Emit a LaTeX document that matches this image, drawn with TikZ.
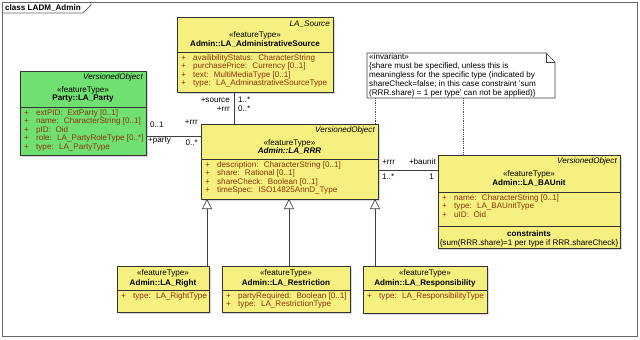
\documentclass[tikz,border=0pt]{standalone}
\usepackage{fontspec}
\setmainfont{Liberation Sans}
\usepackage{tikz}
\usetikzlibrary{arrows.meta, positioning, calc, shadows}

\definecolor{umlyellow}{RGB}{246,240,128}
\definecolor{umlgreen}{RGB}{112,224,112}
\definecolor{attrred}{RGB}{140,52,10}

\begin{document}
\begin{tikzpicture}[
      x=1pt, y=-1pt,
      classbox/.style={rectangle, draw=black!80, fill=umlyellow, line width=0.7pt,
                       inner sep=0pt, outer sep=0pt, anchor=north west,
                       drop shadow={shadow xshift=1.5pt, shadow yshift=-1.5pt, opacity=0.3}},
      partybox/.style={classbox, fill=umlgreen},
      notebox/.style={rectangle, inner sep=0pt, outer sep=0pt, anchor=north west},
      super/.style={anchor=east, inner sep=0pt, font=\fontsize{8.1}{8.5}\selectfont\itshape},
      stereo/.style={inner sep=0pt, font=\fontsize{8.1}{8.5}\selectfont},
      cname/.style={inner sep=0pt, font=\fontsize{8.1}{8.5}\selectfont\bfseries},
      attr/.style={anchor=north west, inner sep=0pt, text=attrred,
                   font=\fontsize{8.1}{8.5}\selectfont},
      divider/.style={draw=black!80, line width=0.6pt},
      role/.style={inner sep=0pt, font=\fontsize{8.1}{8.5}\selectfont},
      assoc/.style={draw=black!75, line width=0.6pt},
      gen/.style={draw=black!75, line width=0.6pt, -{Triangle[open, length=10pt, width=10pt]}},
      trace/.style={draw=black!70, line width=0.8pt, densely dotted},
      frame/.style={draw=black!60, line width=0.8pt}
  ]
      \useasboundingbox (0,0) rectangle (640,340);

      % frame
      \draw[frame] (2,2) rectangle (637,336);
      \draw[frame] (2,13) -- (83,13) -- (91,5) -- (91,2);
      \node[anchor=west, inner sep=0pt, font=\fontsize{8.1}{8.5}\selectfont\bfseries]
          (framename) at (5,8) {class LADM\_Admin};

      % LA_Party
      \node[partybox, minimum width=126, minimum height=84] (party) at (20,71) {};
      \node[super] (partysup) at ([xshift=-3, yshift=-6]party.north east) {VersionedObject};
      \node[stereo] (partyst) at ([yshift=-19]party.north) {«featureType»};
      \node[cname] (partyname) at ([yshift=-28]party.north) {Party::LA\_Party};
      \draw[divider] ([yshift=-36]party.north west) -- ([yshift=-36]party.north east);
      \node[attr] (partyattr) at ([xshift=4, yshift=-38]party.north west)
          {\begin{tabular}{@{}p{12pt}@{}l@{}}
            + & extPID:~ ExtParty [0..1]\\
            + & name:~ CharacterString [0..1]\\
            + & pID:~ Oid\\
            + & role:~ LA\_PartyRoleType [0..*]\\
            + & type:~ LA\_PartyType
           \end{tabular}};

      % LA_AdministrativeSource
      \node[classbox, minimum width=156, minimum height=75] (source) at (177,17) {};
      \node[super] (sourcesup) at ([xshift=-3, yshift=-7]source.north east) {LA\_Source};
      \node[stereo] (sourcest) at ([yshift=-18]source.north) {«featureType»};
      \node[cname] (sourcename) at ([yshift=-27]source.north) {Admin::LA\_AdministrativeSource};
      \draw[divider] ([yshift=-35]source.north west) -- ([yshift=-35]source.north east);
      \node[attr] (sourceattr) at ([xshift=4, yshift=-37]source.north west)
          {\begin{tabular}{@{}p{12pt}@{}l@{}}
            + & availibilityStatus:~ CharacterString\\
            + & purchasePrice:~ Currency [0..1]\\
            + & text:~ MultiMediaType [0..1]\\
            + & type:~ LA\_AdminastrativeSourceType
           \end{tabular}};

      % LA_RRR
      \node[classbox, minimum width=177, minimum height=75] (rrr) at (201,124) {};
      \node[super] (rrrsup) at ([xshift=-3, yshift=-6]rrr.north east) {VersionedObject};
      \node[stereo] (rrrst) at ([yshift=-19]rrr.north) {«featureType»};
      \node[cname, font=\fontsize{8.1}{8.5}\selectfont\bfseries\itshape]
          (rrrname) at ([yshift=-27]rrr.north) {Admin::LA\_RRR};
      \draw[divider] ([yshift=-35]rrr.north west) -- ([yshift=-35]rrr.north east);
      \node[attr] (rrrattr) at ([xshift=4, yshift=-37]rrr.north west)
          {\begin{tabular}{@{}p{12pt}@{}l@{}}
            + & description:~ CharacterString [0..1]\\
            + & share:~ Rational [0..1]\\
            + & shareCheck:~ Boolean [0..1]\\
            + & timeSpec:~ ISO14825AnnD\_Type
           \end{tabular}};

      % LA_BAUnit
      \node[classbox, minimum width=182, minimum height=93] (baunit) at (438,155) {};
      \node[super] (baunitsup) at ([xshift=-3, yshift=-6]baunit.north east) {VersionedObject};
      \node[stereo] (baunitst) at ([yshift=-19]baunit.north) {«featureType»};
      \node[cname] (baunitname) at ([yshift=-28]baunit.north) {Admin::LA\_BAUnit};
      \draw[divider] ([yshift=-37]baunit.north west) -- ([yshift=-37]baunit.north east);
      \node[attr] (baunitattr) at ([xshift=4, yshift=-39]baunit.north west)
          {\begin{tabular}{@{}p{12pt}@{}l@{}}
            + & name:~ CharacterString [0..1]\\
            + & type:~ LA\_BAUnitType\\
            + & uID:~ Oid
           \end{tabular}};
      \draw[divider] ([yshift=-71]baunit.north west) -- ([yshift=-71]baunit.north east);
      \node[cname] (baunitcons) at ([yshift=-79]baunit.north) {constraints};
      \node[stereo] (baunitrule) at ([yshift=-88]baunit.north)
          {\{sum(RRR.share)=1 per type if RRR.shareCheck\}};

      % invariant note
      \node[notebox, minimum width=188, minimum height=45] (note) at (367,53) {};
      \draw[assoc, fill=white] (note.north west) -- ([xshift=-9]note.north east)
          -- ([yshift=-9]note.north east) -- (note.south east) -- (note.south west) -- cycle;
      \draw[assoc] ([xshift=-9]note.north east) -- ([xshift=-9, yshift=-9]note.north east)
          -- ([yshift=-9]note.north east);
      \node[anchor=north west, inner sep=0pt, align=left, font=\fontsize{8.1}{9.2}\selectfont]
          (notetext) at ([xshift=2]note.north west)
          {«invariant»\\
           \{share must be specified, unless this is\\
           meaningless for the specific type (indicated by\\
           shareCheck=false; in this case constraint 'sum\\
           (RRR.share) = 1 per type' can not be applied)\}};

      % subclasses
      \node[classbox, minimum width=92, minimum height=46] (right) at (117,266) {};
      \node[stereo] (rightst) at ([yshift=-7]right.north) {«featureType»};
      \node[cname] (rightname) at ([yshift=-17]right.north) {Admin::LA\_Right};
      \draw[divider] ([yshift=-24]right.north west) -- ([yshift=-24]right.north east);
      \node[attr] (rightattr) at ([xshift=4, yshift=-26]right.north west)
          {\begin{tabular}{@{}p{12pt}@{}l@{}}
            + & type:~ LA\_RightType
           \end{tabular}};

      \node[classbox, minimum width=128, minimum height=46] (restriction) at (222,266) {};
      \node[stereo] (restrictionst) at ([yshift=-7]restriction.north) {«featureType»};
      \node[cname] (restrictionname) at ([yshift=-17]restriction.north) {Admin::LA\_Restriction};
      \draw[divider] ([yshift=-24]restriction.north west) -- ([yshift=-24]restriction.north east);
      \node[attr] (restrictionattr) at ([xshift=4, yshift=-26]restriction.north west)
          {\begin{tabular}{@{}p{12pt}@{}l@{}}
            + & partyRequired:~ Boolean [0..1]\\
            + & type:~ LA\_RestrictionType
           \end{tabular}};

      \node[classbox, minimum width=124, minimum height=47] (responsibility) at (363,266) {};
      \node[stereo] (responsibilityst) at ([yshift=-7]responsibility.north) {«featureType»};
      \node[cname] (responsibilityname) at ([yshift=-17]responsibility.north)
          {Admin::LA\_Responsibility};
      \draw[divider] ([yshift=-24]responsibility.north west)
          -- ([yshift=-24]responsibility.north east);
      \node[attr] (responsibilityattr) at ([xshift=4, yshift=-26]responsibility.north west)
          {\begin{tabular}{@{}p{12pt}@{}l@{}}
            + & type:~ LA\_ResponsibilityType
           \end{tabular}};

      % associations
      \coordinate (partyrrr) at ([yshift=-65]party.north east);
      \coordinate (rrrparty) at (partyrrr -| rrr.west);
      \draw[assoc] (partyrrr) -- (rrrparty);
      \node[role, anchor=west] (partymult) at ([xshift=4, yshift=11]partyrrr) {0..1};
      \node[role, anchor=west] (partyrole) at ([xshift=2, yshift=-5]partyrrr) {+party};
      \node[role, anchor=east] (rrrrole1) at ([xshift=-3, yshift=14]rrrparty) {+rrr};
      \node[role, anchor=east] (rrrmult1) at ([xshift=-3, yshift=-7]rrrparty) {0..*};

      \coordinate (sourcerrr) at ([xshift=57]source.south west);
      \coordinate (rrrsource) at (sourcerrr |- rrr.north);
      \draw[assoc] (sourcerrr) -- (rrrsource);
      \node[role, anchor=east] (sourcerole) at ([xshift=-4, yshift=-8]sourcerrr) {+source};
      \node[role, anchor=west] (sourcemult) at ([xshift=4, yshift=-8]sourcerrr) {1..*};
      \node[role, anchor=east] (rrrrole2) at ([xshift=-4, yshift=-17]sourcerrr) {+rrr};
      \node[role, anchor=west] (rrrmult2) at ([xshift=4, yshift=-17]sourcerrr) {0..*};

      \coordinate (rrrbaunit) at ([yshift=-46]rrr.north east);
      \coordinate (baunitrrr) at (rrrbaunit -| baunit.west);
      \draw[assoc] (rrrbaunit) -- (baunitrrr);
      \node[role, anchor=west] (rrrrole3) at ([xshift=4, yshift=8]rrrbaunit) {+rrr};
      \node[role, anchor=west] (rrrmult3) at ([xshift=4, yshift=-7]rrrbaunit) {1..*};
      \node[role, anchor=east] (baunitrole) at ([xshift=-2, yshift=8]baunitrrr) {+baunit};
      \node[role, anchor=east] (baunitmult) at ([xshift=-4, yshift=-7]baunitrrr) {1};

      % note links
      \coordinate (notelink1) at ([xshift=8]note.south west);
      \coordinate (notelink2) at ([xshift=96]note.south west);
      \draw[trace] (notelink1) -- (notelink1 |- rrr.north);
      \draw[trace] (notelink2) -- (notelink2 |- baunit.north);

      % generalizations
      \draw[gen] ([xshift=-2]right.north east) -- ([xshift=-2]right.north east |- rrr.south);
      \draw[gen] ([xshift=67]restriction.north west)
          -- ([xshift=67]restriction.north west |- rrr.south);
      \draw[gen] ([xshift=12]responsibility.north west)
          -- ([xshift=12]responsibility.north west |- rrr.south);
  \end{tikzpicture}
\end{document}
